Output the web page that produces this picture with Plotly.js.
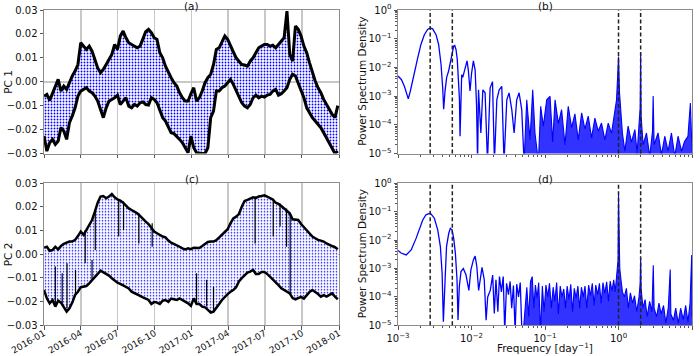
<!DOCTYPE html>
<html><head><meta charset="utf-8">
<script src="https://cdn.plot.ly/plotly-3.0.1.min.js"></script>
<style>html,body{margin:0;padding:0;background:#fff}#chart{width:700px;height:356px}</style>
</head><body><div id="chart"></div>
<script>
// ---------- time axis (weekly samples) ----------
const weekDates = [
'2016-01-01','2016-01-08','2016-01-15','2016-01-22','2016-01-29','2016-02-05','2016-02-12','2016-02-19','2016-02-26',
'2016-03-04','2016-03-11','2016-03-18','2016-03-25','2016-04-01','2016-04-08','2016-04-15','2016-04-22','2016-04-29',
'2016-05-06','2016-05-13','2016-05-20','2016-05-27','2016-06-03','2016-06-10','2016-06-17','2016-06-24',
'2016-07-01','2016-07-08','2016-07-15','2016-07-22','2016-07-29','2016-08-05','2016-08-12','2016-08-19','2016-08-26',
'2016-09-02','2016-09-09','2016-09-16','2016-09-23','2016-09-30','2016-10-07','2016-10-14','2016-10-21','2016-10-28',
'2016-11-04','2016-11-11','2016-11-18','2016-11-25','2016-12-02','2016-12-09','2016-12-16','2016-12-23','2016-12-30',
'2017-01-06','2017-01-13','2017-01-20','2017-01-27','2017-02-03','2017-02-10','2017-02-17','2017-02-24',
'2017-03-03','2017-03-10','2017-03-17','2017-03-24','2017-03-31','2017-04-07','2017-04-14','2017-04-21','2017-04-28',
'2017-05-05','2017-05-12','2017-05-19','2017-05-26','2017-06-02','2017-06-09','2017-06-16','2017-06-23','2017-06-30',
'2017-07-07','2017-07-14','2017-07-21','2017-07-28','2017-08-04','2017-08-11','2017-08-18','2017-08-25',
'2017-09-01','2017-09-08','2017-09-15','2017-09-22','2017-09-29','2017-10-06','2017-10-13','2017-10-20','2017-10-27',
'2017-11-03','2017-11-10','2017-11-17','2017-11-24','2017-12-01','2017-12-08','2017-12-15','2017-12-22','2017-12-29'];

// ---------- PC 1 envelope ----------
const pc1Upper = [-0.0060,-0.0053,-0.0078,-0.0050,-0.0020,0.0010,-0.0039,-0.0018,-0.0032,0.0000,0.0024,0.0045,0.0072,
0.0163,0.0149,0.0135,0.0149,0.0128,0.0093,0.0058,0.0038,0.0052,0.0072,0.0093,0.0114,0.0156,0.0135,0.0191,0.0212,0.0184,
0.0163,0.0156,0.0149,0.0142,0.0149,0.0177,0.0209,0.0219,0.0205,0.0184,0.0177,0.0121,0.0100,0.0065,0.0038,0.0017,-0.0004,
-0.0018,-0.0046,-0.0067,-0.0081,-0.0081,-0.0050,-0.0025,-0.0081,-0.0067,-0.0039,-0.0004,0.0017,0.0031,0.0072,0.0135,
0.0142,0.0170,0.0191,0.0177,0.0149,0.0121,0.0100,0.0086,0.0072,0.0070,0.0065,0.0086,0.0100,0.0121,0.0142,0.0149,0.0156,
0.0156,0.0149,0.0153,0.0142,0.0156,0.0170,0.0184,0.0295,0.0114,0.0086,0.0233,0.0219,0.0191,0.0149,0.0121,0.0079,0.0038,
0.0003,-0.0025,-0.0046,-0.0074,-0.0095,-0.0116,-0.0136,-0.0150,-0.0100];
const pc1Lower = [-0.0227,-0.0290,-0.0255,-0.0241,-0.0262,-0.0248,-0.0192,-0.0206,-0.0241,-0.0171,-0.0143,-0.0109,-0.0060,
-0.0039,-0.0032,-0.0025,-0.0039,-0.0046,-0.0060,-0.0081,-0.0116,-0.0150,-0.0109,-0.0081,-0.0074,-0.0067,-0.0056,-0.0095,
-0.0081,-0.0067,-0.0102,-0.0109,-0.0095,-0.0102,-0.0088,-0.0084,-0.0095,-0.0097,-0.0067,-0.0074,-0.0088,-0.0116,-0.0150,
-0.0164,-0.0192,-0.0213,-0.0217,-0.0227,-0.0241,-0.0255,-0.0276,-0.0297,-0.0227,-0.0276,-0.0297,-0.0300,-0.0300,-0.0300,
-0.0276,-0.0150,-0.0123,-0.0039,-0.0039,-0.0025,-0.0018,-0.0004,0.0010,-0.0011,-0.0039,-0.0060,-0.0088,-0.0102,-0.0109,
-0.0095,-0.0067,-0.0056,-0.0067,-0.0060,-0.0064,-0.0056,-0.0053,-0.0039,-0.0032,-0.0056,-0.0050,-0.0039,-0.0025,0.0010,
0.0031,0.0024,-0.0004,-0.0032,-0.0067,-0.0109,-0.0130,-0.0150,-0.0164,-0.0178,-0.0192,-0.0213,-0.0234,-0.0255,-0.0276,
-0.0300,-0.0290];

// ---------- PC 2 envelope ----------
const pc2Upper = [0.0028,0.0032,0.0015,0.0018,0.0032,0.0021,0.0035,0.0044,0.0049,0.0054,0.0054,0.0061,0.0077,0.0096,0.0082,
0.0103,0.0120,0.0145,0.0180,0.0218,0.0244,0.0246,0.0237,0.0244,0.0255,0.0241,0.0232,0.0227,0.0218,0.0204,0.0194,0.0187,
0.0180,0.0173,0.0162,0.0148,0.0138,0.0128,0.0110,0.0096,0.0089,0.0082,0.0075,0.0072,0.0058,0.0049,0.0044,0.0038,0.0032,
0.0025,0.0021,0.0025,0.0022,0.0028,0.0028,0.0027,0.0035,0.0045,0.0052,0.0054,0.0054,0.0060,0.0072,0.0082,0.0092,0.0106,
0.0131,0.0152,0.0159,0.0170,0.0201,0.0225,0.0230,0.0237,0.0241,0.0238,0.0244,0.0246,0.0249,0.0244,0.0237,0.0232,0.0218,
0.0213,0.0204,0.0194,0.0185,0.0173,0.0148,0.0145,0.0145,0.0128,0.0114,0.0103,0.0086,0.0075,0.0068,0.0061,0.0058,0.0054,
0.0046,0.0039,0.0035,0.0030,0.0021];
const pc2Lower = [-0.0151,-0.0186,-0.0207,-0.0193,-0.0221,-0.0196,-0.0204,-0.0221,-0.0242,-0.0228,-0.0204,-0.0172,-0.0158,
-0.0139,-0.0137,-0.0134,-0.0123,-0.0108,-0.0097,-0.0083,-0.0069,-0.0075,-0.0083,-0.0090,-0.0101,-0.0111,-0.0120,-0.0125,
-0.0131,-0.0137,-0.0144,-0.0158,-0.0165,-0.0172,-0.0176,-0.0182,-0.0187,-0.0193,-0.0210,-0.0201,-0.0204,-0.0210,-0.0196,
-0.0193,-0.0201,-0.0187,-0.0190,-0.0193,-0.0186,-0.0193,-0.0200,-0.0207,-0.0218,-0.0186,-0.0210,-0.0210,-0.0221,-0.0224,
-0.0235,-0.0246,-0.0242,-0.0228,-0.0210,-0.0193,-0.0179,-0.0168,-0.0158,-0.0151,-0.0139,-0.0115,-0.0101,-0.0087,-0.0077,
-0.0073,-0.0066,-0.0083,-0.0083,-0.0075,-0.0075,-0.0083,-0.0094,-0.0106,-0.0117,-0.0130,-0.0144,-0.0151,-0.0158,-0.0165,
-0.0185,-0.0190,-0.0185,-0.0180,-0.0187,-0.0172,-0.0159,-0.0151,-0.0159,-0.0168,-0.0179,-0.0173,-0.0179,-0.0172,-0.0165,
-0.0179,-0.0190];
// short excursions of the PC 2 series that cut into the cloud (date, from, to)
const pc2SpikeDates = ['2016-01-29','2016-02-15','2016-02-27','2016-03-19','2016-04-12','2016-04-29','2016-05-07',
'2016-07-04','2016-07-16','2016-08-23','2016-09-25','2017-01-13','2017-02-07','2017-02-24','2017-06-07','2017-07-22',
'2017-08-08','2017-08-24','2017-09-02'];
const pc2SpikeFrom = [-0.0221,-0.0207,-0.0228,-0.0172,0.0103,-0.0108,0.0187,0.0230,0.0223,0.0173,0.0131,-0.0214,-0.0221,
-0.0242,0.0244,0.0230,0.0215,0.0194,0.0173];
const pc2SpikeTo = [-0.0052,-0.0080,-0.0038,-0.0066,-0.0038,-0.0024,0.0018,0.0075,0.0103,0.0046,0.0032,-0.0080,-0.0108,
-0.0137,0.0046,0.0075,0.0117,0.0032,-0.0165];

// ---------- PSD of PC 1 ----------
const freqB1 = [0.001,0.00111,0.00122,0.00132,0.00138,0.00148,0.00164,0.00185,0.00205,0.00228,0.00253,0.00272,0.00296,
0.00329,0.00357,0.00385,0.00405,0.00418,0.00436,0.00459,0.00488,0.00515,0.00543,0.00572,0.00591,0.00615,0.0064,0.00665,
0.00685,0.00698,0.00712,0.00735,0.0076,0.0079,0.0083,0.00869,0.00905,0.00955,0.0100,0.0106,0.0112,0.0117,0.0121,0.01245,
0.0134,0.01426,0.0153,0.01648,0.0179,0.0193,0.0205,0.0221,0.0238,0.0258,0.0277,0.0302,0.0324,0.0353,0.038,0.0412,0.0444,
0.0482,0.0519];
const psdB1 = [5.0e-3,3.8e-3,2.2e-3,1.0e-3,8.0e-4,1.6e-3,5.6e-3,2.1e-2,6.3e-2,0.138,0.21,0.235,0.22,0.138,0.063,0.0126,
2.0e-3,3.5e-4,1.5e-3,4.5e-3,7.5e-3,1.4e-2,3.4e-2,5.5e-2,5.8e-2,4.2e-2,1.9e-2,5.0e-3,8.0e-4,4.0e-5,1.2e-3,5.5e-3,4.5e-3,
6.5e-3,1.3e-2,1.7e-2,8.0e-3,1.5e-3,6.0e-3,1.7e-2,8.0e-3,5.0e-4,5.0e-6,1.66e-3,5.2e-5,1.66e-3,1.3e-3,5.0e-6,1.9e-3,3.2e-3,
5.0e-6,7.4e-4,1.66e-3,2.2e-3,5.0e-6,7.4e-4,1.3e-3,3.4e-4,5.2e-5,7.4e-4,1.3e-3,3.4e-4,5.0e-6];
const freqB2 = [0.0519,0.0564,0.0625,0.068,0.0731,0.0813,0.0873,0.0948,0.1054,0.117,0.127,0.137,0.152,0.168,0.187,0.207,
0.23,0.255,0.283,0.315,0.349,0.387,0.43,0.477,0.53,0.587,0.652,0.724,0.803,0.891,0.94,0.968,1.0,1.032,1.064,1.13,1.22,
1.35,1.5,1.67,1.79,1.9,1.97,2.0,2.03,2.16,2.4,2.66,2.9,2.96,3.05,3.45,3.84,4.26,4.72,5.25,5.82,6.46,7.2,7.9,8.8,9.5,9.9,10];
const psdB2 = [5e-6,7.4e-4,3e-5,1.66e-3,5e-5,5e-6,4.4e-4,9e-5,7.4e-4,9.8e-4,2.5e-5,7.4e-4,1.1e-4,3.4e-4,2e-5,4.4e-4,8e-5,
2.4e-4,3e-5,2.6e-4,7e-5,2e-4,3.5e-5,1.7e-4,6e-5,1.15e-4,3e-5,1.15e-4,5e-5,3.4e-4,7.4e-4,3.7e-3,0.024,1.3e-3,3.4e-4,5e-5,
1.2e-5,9e-5,2.5e-5,6.8e-5,1e-5,2e-4,4e-4,0.032,2e-4,2e-5,5.2e-5,8e-6,6e-5,1e-3,2e-5,5.2e-5,9e-6,4e-5,1.2e-5,5.2e-5,8e-6,
4e-5,1.2e-5,2.6e-5,4e-5,5.7e-4,1.5e-5,1.2e-5];

// ---------- PSD of PC 2 ----------
const freqD1 = [0.001,0.0011,0.00129,0.00151,0.00176,0.00195,0.00217,0.0024,0.00267,0.00282,0.00312,0.00347,0.00377,
0.00398,0.00414,0.00437,0.00457,0.0049,0.00515,0.00543,0.00572,0.00603,0.00635,0.00655,0.00682,0.00719,0.00774,0.00842,
0.0092,0.0098,0.0106,0.0112,0.0118,0.0125,0.013,0.0139,0.0149,0.0158,0.0166,0.018,0.0194,0.0204,0.0215,0.0228,0.024,
0.0255,0.027,0.0283,0.03,0.0318,0.0335,0.0352,0.0372,0.0392,0.0412,0.0436,0.046,0.0485,0.0506];
const psdD1 = [4.3e-3,3.5e-3,3.0e-3,4.5e-3,1.15e-2,2.3e-2,5.1e-2,7.8e-2,8.7e-2,8.3e-2,5.9e-2,2.3e-2,5.9e-3,6.8e-4,1.35e-5,
4.0e-4,5.9e-3,1.74e-2,2.6e-2,2.3e-2,1.15e-2,3.5e-3,4.0e-4,1.55e-5,2.3e-4,7.8e-4,1.0e-3,5.9e-4,1.7e-4,8.9e-4,2.0e-3,2.75e-3,
1.2e-3,1.7e-4,4.0e-4,1.1e-3,4.0e-4,1.5e-5,1.0e-4,1.7e-4,5.9e-4,2.6e-5,4.0e-4,3.0e-5,5.2e-4,1.5e-4,5.2e-4,6e-6,3.0e-4,
1.2e-4,3.5e-4,4.0e-5,2.5e-4,6e-6,2.8e-4,1.0e-4,3.2e-4,6e-6,6e-6];
const freqD2 = [0.0506,0.0535,0.0565,0.06,0.0635,0.067,0.0705,0.074,0.078,0.082,0.087,0.092,0.097,0.103,0.109,0.115,0.122,
0.129,0.136,0.144,0.152,0.161,0.17,0.18,0.19,0.2,0.212,0.224,0.237,0.25,0.265,0.28,0.296,0.313,0.331,0.35,0.37,0.392,0.415,
0.44,0.465,0.49,0.52,0.55,0.58,0.615,0.65,0.69,0.73,0.77,0.815,0.86,0.9,0.94,0.965,0.985,1.0,1.015,1.04,1.08,1.13,1.2,1.28,
1.36,1.45,1.55,1.65,1.77,1.9,1.97,2.0,2.03,2.15,2.3,2.45,2.65,2.85,2.97,3.05,3.3,3.55,3.8,4.1,4.4,4.75,5.05,5.15,5.6,6.0,
6.5,7.0,7.6,8.2,8.8,9.4,9.9,10];
const psdD2 = [6e-6,6e-5,2.2e-4,2e-5,3.5e-4,5.2e-4,4e-5,2.6e-4,9e-5,3.2e-4,6e-6,2.4e-4,3e-5,2.6e-4,1e-4,3e-4,4e-5,2.2e-4,
7e-5,3.2e-4,2.5e-5,2.4e-4,1e-4,1.9e-4,4e-5,2.4e-4,8e-5,2.8e-4,3e-5,2e-4,9e-5,2.4e-4,4e-5,2.2e-4,1e-4,2.4e-4,4e-5,2.6e-4,
1.1e-4,3e-4,5e-5,2.6e-4,1.2e-4,3e-4,6e-5,3.2e-4,1.3e-4,3.4e-4,7e-5,3.6e-4,1.6e-4,4e-4,1.5e-4,5e-4,1.2e-3,2e-3,0.39,2.5e-3,
1e-3,4e-4,1.5e-4,1e-4,2e-4,4e-5,1.4e-4,6e-5,1.1e-4,3e-5,1e-4,3e-4,2.3e-3,2e-4,4e-5,8e-5,2e-5,7e-5,3e-5,1.3e-3,4e-5,2e-5,
6e-5,2.5e-5,5e-5,1.2e-5,4e-5,9.3e-4,2.5e-5,1.5e-5,4e-5,1.2e-5,4e-5,1.6e-5,5e-5,1.3e-5,6e-5,3e-3,2e-5];

// reference frequencies (1/yr, 2/yr, 1/day, 2/day)
const markerFreqs = [0.00274, 0.00548, 1, 2];
const panelTitles = ['(a)', '(b)', '(c)', '(d)'];
const freqTickVals = [0.001, 0.01, 0.1, 1, 10];
const freqTickText = ['10<sup>−3</sup>', '10<sup>−2</sup>', '10<sup>−1</sup>', '10<sup>0</sup>', '10<sup>1</sup>'];
const psdTickVals = [1e-5, 1e-4, 1e-3, 1e-2, 1e-1, 1];
const psdTickText = ['10<sup>−5</sup>', '10<sup>−4</sup>', '10<sup>−3</sup>', '10<sup>−2</sup>', '10<sup>−1</sup>', '10<sup>0</sup>'];

// ---------- build traces ----------
const BLUE = '#0000ff';
const traces = [];
function envelope(xa, ya, lower, upper, pat, lw) {
  traces.push({x: weekDates, y: lower, xaxis: xa, yaxis: ya, mode: 'lines', line: {width: 0}, hoverinfo: 'skip'});
  traces.push({x: weekDates, y: upper, xaxis: xa, yaxis: ya, mode: 'lines', line: {width: 0}, fill: 'tonexty',
    fillcolor: 'white', fillpattern: {shape: '.', fgcolor: BLUE, bgcolor: 'white', size: pat.size, solidity: pat.sol}});
  traces.push({x: weekDates, y: lower, xaxis: xa, yaxis: ya, mode: 'lines', line: {color: 'black', width: lw}});
  traces.push({x: weekDates, y: upper, xaxis: xa, yaxis: ya, mode: 'lines', line: {color: 'black', width: lw}});
}
function spikes(xa, ya, dates, from, to) {
  const x = [], y = [];
  dates.forEach((d, i) => { x.push(d, d, null); y.push(from[i], to[i], null); });
  traces.push({x, y, xaxis: xa, yaxis: ya, mode: 'lines', line: {color: 'black', width: 1.2}, connectgaps: false});
}
function spectrum(xa, ya, f1, p1, f2, p2) {
  traces.push({x: f1, y: p1, xaxis: xa, yaxis: ya, mode: 'lines', line: {color: BLUE, width: 1.3}});
  traces.push({x: [f2[0], f2[f2.length - 1]], y: [1e-7, 1e-7], xaxis: xa, yaxis: ya, mode: 'lines', line: {width: 0}, hoverinfo: 'skip'});
  traces.push({x: f2, y: p2, xaxis: xa, yaxis: ya, mode: 'lines', line: {color: BLUE, width: 1.1},
    fill: 'tonexty', fillcolor: 'rgba(0,0,255,0.8)'});
}
envelope('x', 'y', pc1Lower, pc1Upper, {size: 3, sol: 0.3}, 3);
spectrum('x2', 'y2', freqB1, psdB1, freqB2, psdB2);
envelope('x3', 'y3', pc2Lower, pc2Upper, {size: 3, sol: 0.24}, 2.5);
spikes('x3', 'y3', pc2SpikeDates, pc2SpikeFrom, pc2SpikeTo);
spectrum('x4', 'y4', freqD1, psdD1, freqD2, psdD2);
traces.forEach(t => t.showlegend = false);

// ---------- layout ----------
const FONT = 'DejaVu Sans';
const LD = [0.0629, 0.4843], RD = [0.5686, 0.9886], TD = [0.5688, 0.9719], BD = [0.0862, 0.4851];
const base = {showline: true, mirror: true, linecolor: '#8c8c8c', linewidth: 1, ticks: 'outside', ticklen: 3.5,
  tickcolor: '#555', tickfont: {family: FONT, size: 10, color: '#111'}, zeroline: false, showgrid: false, fixedrange: true};
const dateAx = Object.assign({}, base, {type: 'date', range: ['2016-01-01', '2018-01-01'], dtick: 'M3', tick0: '2016-01-01',
  tickformat: '%Y-%m', showgrid: true, gridcolor: '#c8c8c8', gridwidth: 1.5, domain: LD});
const pcAx = Object.assign({}, base, {range: [-0.03, 0.03], dtick: 0.01, tickformat: '.2f', zeroline: true,
  zerolinecolor: '#c8c8c8', zerolinewidth: 1.5});
const minor = {ticks: 'outside', ticklen: 2, tickcolor: '#555', dtick: 'D1'};
const fAx = Object.assign({}, base, {type: 'log', range: [-3, 1], tickmode: 'array', tickvals: freqTickVals,
  ticktext: freqTickText, domain: RD, minor: minor});
const pAx = Object.assign({}, base, {type: 'log', range: [-5, 0], tickmode: 'array', tickvals: psdTickVals,
  ticktext: psdTickText, minor: minor});

const shapes = [];
[['x2', 'y2'], ['x4', 'y4']].forEach(([xa, ya]) => markerFreqs.forEach(f => shapes.push({
  type: 'line', xref: xa, yref: ya + ' domain', x0: f, x1: f, y0: 0, y1: 1,
  line: {color: '#222', width: 1.5, dash: '4px,2.5px'}})));

const ann = (text, x, y, extra) => Object.assign({text, x, y, xref: 'paper', yref: 'paper', showarrow: false,
  xanchor: 'center', yanchor: 'middle', font: {family: FONT, size: 10.5, color: '#111'}}, extra || {});
const lc = (LD[0] + LD[1]) / 2, rc = (RD[0] + RD[1]) / 2, tc = (TD[0] + TD[1]) / 2, bc = (BD[0] + BD[1]) / 2;
const annotations = [
  ann(panelTitles[0], lc, 1 - 5.5 / 356), ann(panelTitles[1], rc, 1 - 5.5 / 356),
  ann(panelTitles[2], lc, 1 - 178.5 / 356), ann(panelTitles[3], rc, 1 - 178.5 / 356),
  ann('PC 1', 8 / 700, tc, {textangle: -90}), ann('PC 2', 8 / 700, bc, {textangle: -90}),
  ann('Power Spectrum Density', 362 / 700, tc, {textangle: -90}),
  ann('Power Spectrum Density', 362 / 700, bc, {textangle: -90}),
  ann('Frequency [day<sup>−1</sup>]', rc, 1 - 347 / 356)
];

const layout = {
  width: 700, height: 356, margin: {l: 0, r: 0, t: 0, b: 0}, paper_bgcolor: 'white', plot_bgcolor: 'white',
  showlegend: false, font: {family: FONT, size: 10, color: '#111'},
  xaxis: Object.assign({}, dateAx, {anchor: 'y', showticklabels: false}),
  yaxis: Object.assign({}, pcAx, {anchor: 'x', domain: TD}),
  xaxis2: Object.assign({}, fAx, {anchor: 'y2', showticklabels: false}),
  yaxis2: Object.assign({}, pAx, {anchor: 'x2', domain: TD}),
  xaxis3: Object.assign({}, dateAx, {anchor: 'y3', tickangle: -30, ticklabelstandoff: -5,
    tickfont: {family: FONT, size: 9, color: '#111'}}),
  yaxis3: Object.assign({}, pcAx, {anchor: 'x3', domain: BD}),
  xaxis4: Object.assign({}, fAx, {anchor: 'y4'}),
  yaxis4: Object.assign({}, pAx, {anchor: 'x4', domain: BD}),
  shapes, annotations
};
Plotly.newPlot('chart', traces, layout, {staticPlot: true, displayModeBar: false});
</script></body></html>
